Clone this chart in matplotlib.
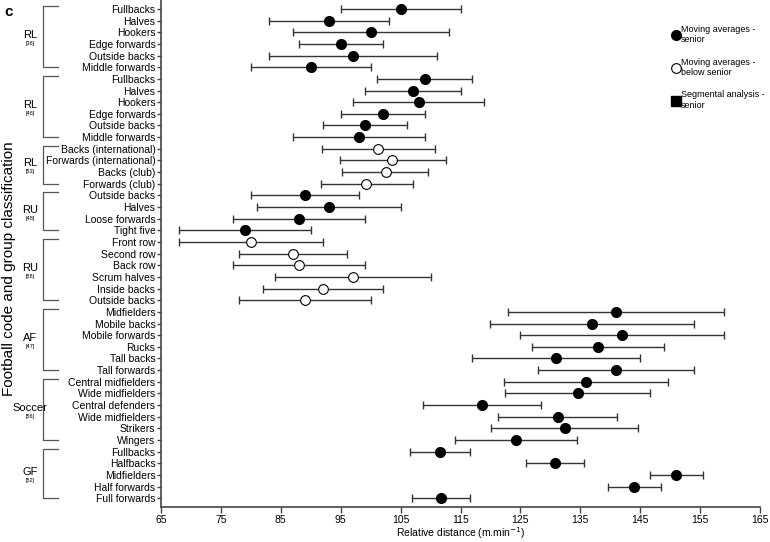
import numpy as np
import matplotlib.pyplot as plt
from matplotlib.lines import Line2D
import matplotlib.transforms as mtransforms

plt.rcParams['font.family'] = ['Liberation Sans', 'DejaVu Sans']

# rows top to bottom
labels = ['Fullbacks', 'Halves', 'Hookers', 'Edge forwards', 'Outside backs', 'Middle forwards',
          'Fullbacks', 'Halves', 'Hookers', 'Edge forwards', 'Outside backs', 'Middle forwards',
          'Backs (international)', 'Forwards (international)', 'Backs (club)', 'Forwards (club)',
          'Outside backs', 'Halves', 'Loose forwards', 'Tight five',
          'Front row', 'Second row', 'Back row', 'Scrum halves', 'Inside backs', 'Outside backs',
          'Midfielders', 'Mobile backs', 'Mobile forwards', 'Rucks', 'Tall backs', 'Tall forwards',
          'Central midfielders', 'Wide midfielders', 'Central defenders', 'Wide midfielders',
          'Strikers', 'Wingers',
          'Fullbacks', 'Halfbacks', 'Midfielders', 'Half forwards', 'Full forwards']
means = [105, 93, 100, 95, 97, 90,
         109, 107, 108, 102, 99, 98,
         101.3, 103.6, 102.5, 99.3,
         89, 93, 88, 79,
         80, 87, 88, 97, 92, 89,
         141, 137, 142, 138, 131, 141,
         136, 134.6, 118.6, 131.3, 132.4, 124.3,
         111.6, 130.8, 151, 144, 111.7]
lows = [95, 83, 87, 88, 83, 80,
        101, 99, 97, 95, 92, 87,
        91.8, 94.8, 95.3, 91.7,
        80, 81, 77, 68,
        68, 78, 77, 84, 82, 78,
        123, 120, 125, 127, 117, 128,
        122.2, 122.5, 108.7, 121.2, 120.1, 114,
        106.6, 125.9, 146.7, 139.6, 106.9]
highs = [115, 103, 113, 102, 111, 100,
         117, 115, 119, 109, 106, 109,
         110.8, 112.5, 109.6, 107,
         98, 105, 99, 90,
         92, 96, 99, 110, 102, 100,
         159, 154, 159, 149, 145, 154,
         149.7, 146.7, 128.5, 141.2, 144.7, 134.4,
         116.6, 135.7, 155.5, 148.4, 116.6]
# 1 = below senior (open marker)
below_senior = [0]*12 + [1]*4 + [0]*4 + [1]*6 + [0]*17

groups = ['RL', 'RL', 'RL', 'RU', 'RU', 'AF', 'Soccer', 'GF']
refs = ['[36]', '[46]', '[53]', '[48]', '[58]', '[47]', '[56]', '[52]']
group_sizes = [6, 6, 4, 4, 6, 6, 6, 5]

W, H = 770, 542
fig = plt.figure(figsize=(W/100, H/100), dpi=100)
ax = fig.add_axes([161/W, 35/H, 599/W, 1 - 35/H])

n = len(labels)
y = np.arange(n)
means = np.array(means)
lows = np.array(lows)
highs = np.array(highs)
below = np.array(below_senior, bool)

ax.errorbar(means, y, xerr=[means - lows, highs - means], fmt='none',
            ecolor='#333333', elinewidth=1.0, capsize=2.7, capthick=1.0, zorder=1)
ax.plot(means[~below], y[~below], 'o', ms=7, mfc='black', mec='black', zorder=2)
ax.plot(means[below], y[below], 'o', ms=7, mfc='white', mec='black', mew=0.8, zorder=2)

ax.set_xlim(65, 165)
ax.set_xticks(np.arange(65, 166, 10))
ax.set_ylim(42.75, -0.77)
ax.set_yticks(y)
ax.set_yticklabels(labels, fontsize=7.5)
ax.tick_params(axis='x', labelsize=7.5, length=4, width=1, color='#444', pad=1.5)
ax.tick_params(axis='y', length=3, width=1, color='#444', pad=1)
for s in ['top', 'right']:
    ax.spines[s].set_visible(False)
for s in ['left', 'bottom']:
    ax.spines[s].set_color('#444')
    ax.spines[s].set_linewidth(1.2)
ax.set_xlabel('Relative distance (m.min$^{-1}$)', fontsize=7.5, labelpad=0.5)

# group brackets and labels
trans = mtransforms.blended_transform_factory(fig.transFigure, ax.transData)
start = 0
for g, r, sz in zip(groups, refs, group_sizes):
    top, bot = start - 0.25, start + sz - 1
    x0, x1 = 43/W, 58/W
    ax.add_line(Line2D([x1, x0, x0, x1], [top, top, bot, bot], transform=trans,
                       color='#555', lw=0.9, clip_on=False))
    mid = (top + bot) / 2
    ax.text(30/W, mid - 0.15, g, transform=trans, ha='center', va='center', fontsize=8)
    ax.text(30/W, mid + 0.6, r, transform=trans, ha='center', va='center', fontsize=4)
    start += sz

fig.text(9/W, 0.5 + 2/H, 'Football code and group classification', rotation=90,
         ha='center', va='center', fontsize=11)
fig.text(4/W, 1 - 12/H, 'c', fontsize=11, fontweight='bold', ha='left', va='center')

# legend
handles = [Line2D([], [], ls='none', marker='o', ms=7, mfc='black', mec='black'),
           Line2D([], [], ls='none', marker='o', ms=7, mfc='white', mec='black', mew=0.8),
           Line2D([], [], ls='none', marker='s', ms=7, mfc='black', mec='black')]
leg_labels = ['Moving averages -\nsenior', 'Moving averages -\nbelow senior',
              'Segmental analysis -\nsenior']
fig.legend(handles, leg_labels, loc='upper left', bbox_to_anchor=(668/W, 1 - 21/H),
           frameon=False, fontsize=6.5, handletextpad=0.0, labelspacing=1.5,
           handlelength=1.0, borderaxespad=0)

fig.savefig('out.png', dpi=100)
